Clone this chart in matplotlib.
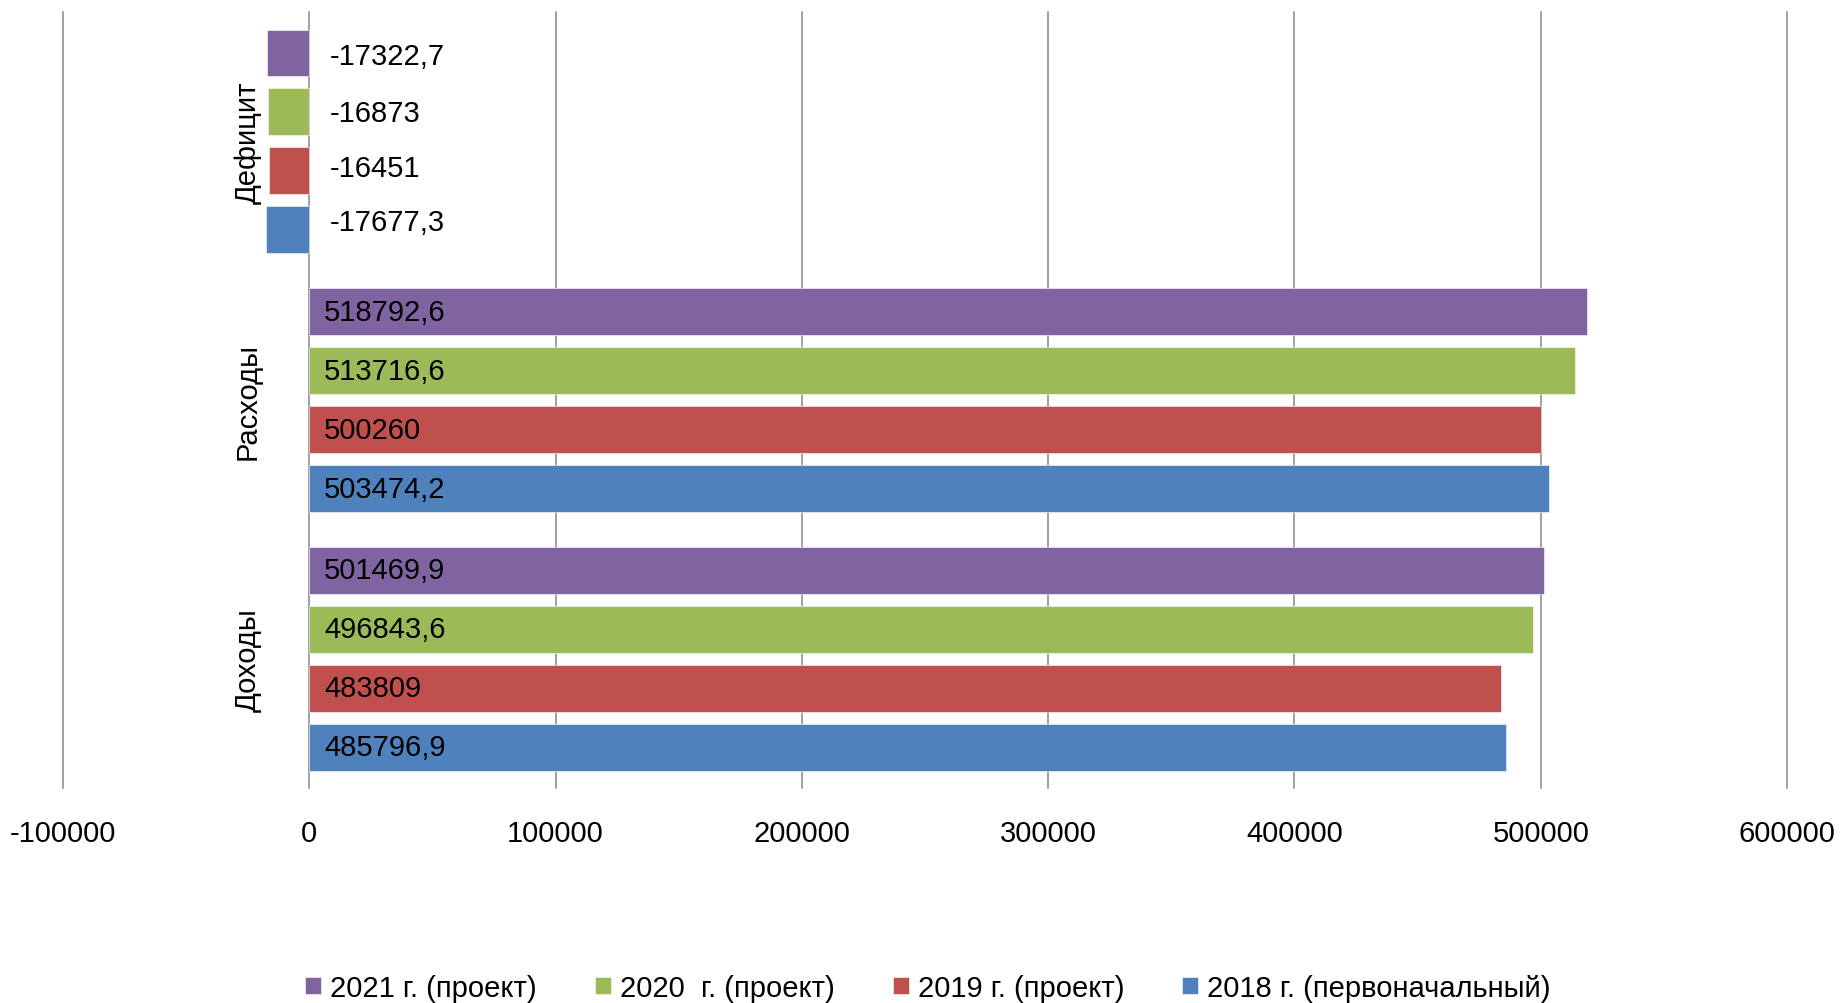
import matplotlib.pyplot as plt
import numpy as np

plt.rcParams['font.family'] = ['Liberation Sans', 'DejaVu Sans']

categories = ['Доходы', 'Расходы', 'Дефицит']
series_names = ['2018 г. (первоначальный)', '2019 г. (проект)', '2020  г. (проект)', '2021 г. (проект)']
v2018 = [485796.9, 503474.2, -17677.3]
v2019 = [483809, 500260, -16451]
v2020 = [496843.6, 513716.6, -16873]
v2021 = [501469.9, 518792.6, -17322.7]
labels2018 = ['485796,9', '503474,2', '-17677,3']
labels2019 = ['483809', '500260', '-16451']
labels2020 = ['496843,6', '513716,6', '-16873']
labels2021 = ['501469,9', '518792,6', '-17322,7']
xticks = [-100000, 0, 100000, 200000, 300000, 400000, 500000, 600000]

colors = ['#4F81BD', '#C0504D', '#9BBB59', '#8064A2']
values = [v2018, v2019, v2020, v2021]
labels = [labels2018, labels2019, labels2020, labels2021]

fig = plt.figure(figsize=(18.41, 10.04), dpi=100)
ax = fig.add_axes([0.0342, 0.214, 0.9365, 0.773])

y = np.arange(len(categories))
offsets = [-0.342, -0.114, 0.114, 0.342]
height = 0.181
# excel puts the labels of the negative bars a little off centre
neg_dy = [8, 3, -1, -3.5]
bars = []
for k in range(4):
    b = ax.barh(y + offsets[k], values[k], height=height, color=colors[k],
                edgecolor='white', linewidth=0.4, label=series_names[k], zorder=3)
    bars.append(b)
    for i in range(len(categories)):
        if values[k][i] > 0:
            dx, dy = 15, 0
        else:
            dx, dy = 20, neg_dy[k]
        ax.annotate(labels[k][i], xy=(0, y[i] + offsets[k]), xytext=(dx, dy),
                    textcoords='offset pixels', ha='left', va='center',
                    fontsize=21, color='black', zorder=4)

for i, c in enumerate(categories):
    ax.annotate(c, xy=(0, y[i]), xytext=(-48, 0), textcoords='offset pixels',
                rotation=90, ha='right', va='center', fontsize=21)

ax.set_xlim(-100000, 600000)
ax.set_ylim(-0.5, 2.5)
ax.set_xticks(xticks)
ax.set_xticklabels([str(t) for t in xticks], fontsize=21)
ax.set_yticks([])
ax.tick_params(axis='x', length=0, pad=22)
for s in ax.spines.values():
    s.set_visible(False)
for t in xticks:
    ax.axvline(t, color='#868686', linewidth=1.1, zorder=1, clip_on=False)

handles = bars[::-1]
leg = fig.legend(handles, [series_names[k] for k in [3, 2, 1, 0]], loc='center',
                 bbox_to_anchor=(0.504, 0.015), ncol=4, frameon=False, fontsize=21,
                 handlelength=0.55, handleheight=0.55, handletextpad=0.3,
                 columnspacing=2.0)

fig.savefig('out.png', dpi=100)
